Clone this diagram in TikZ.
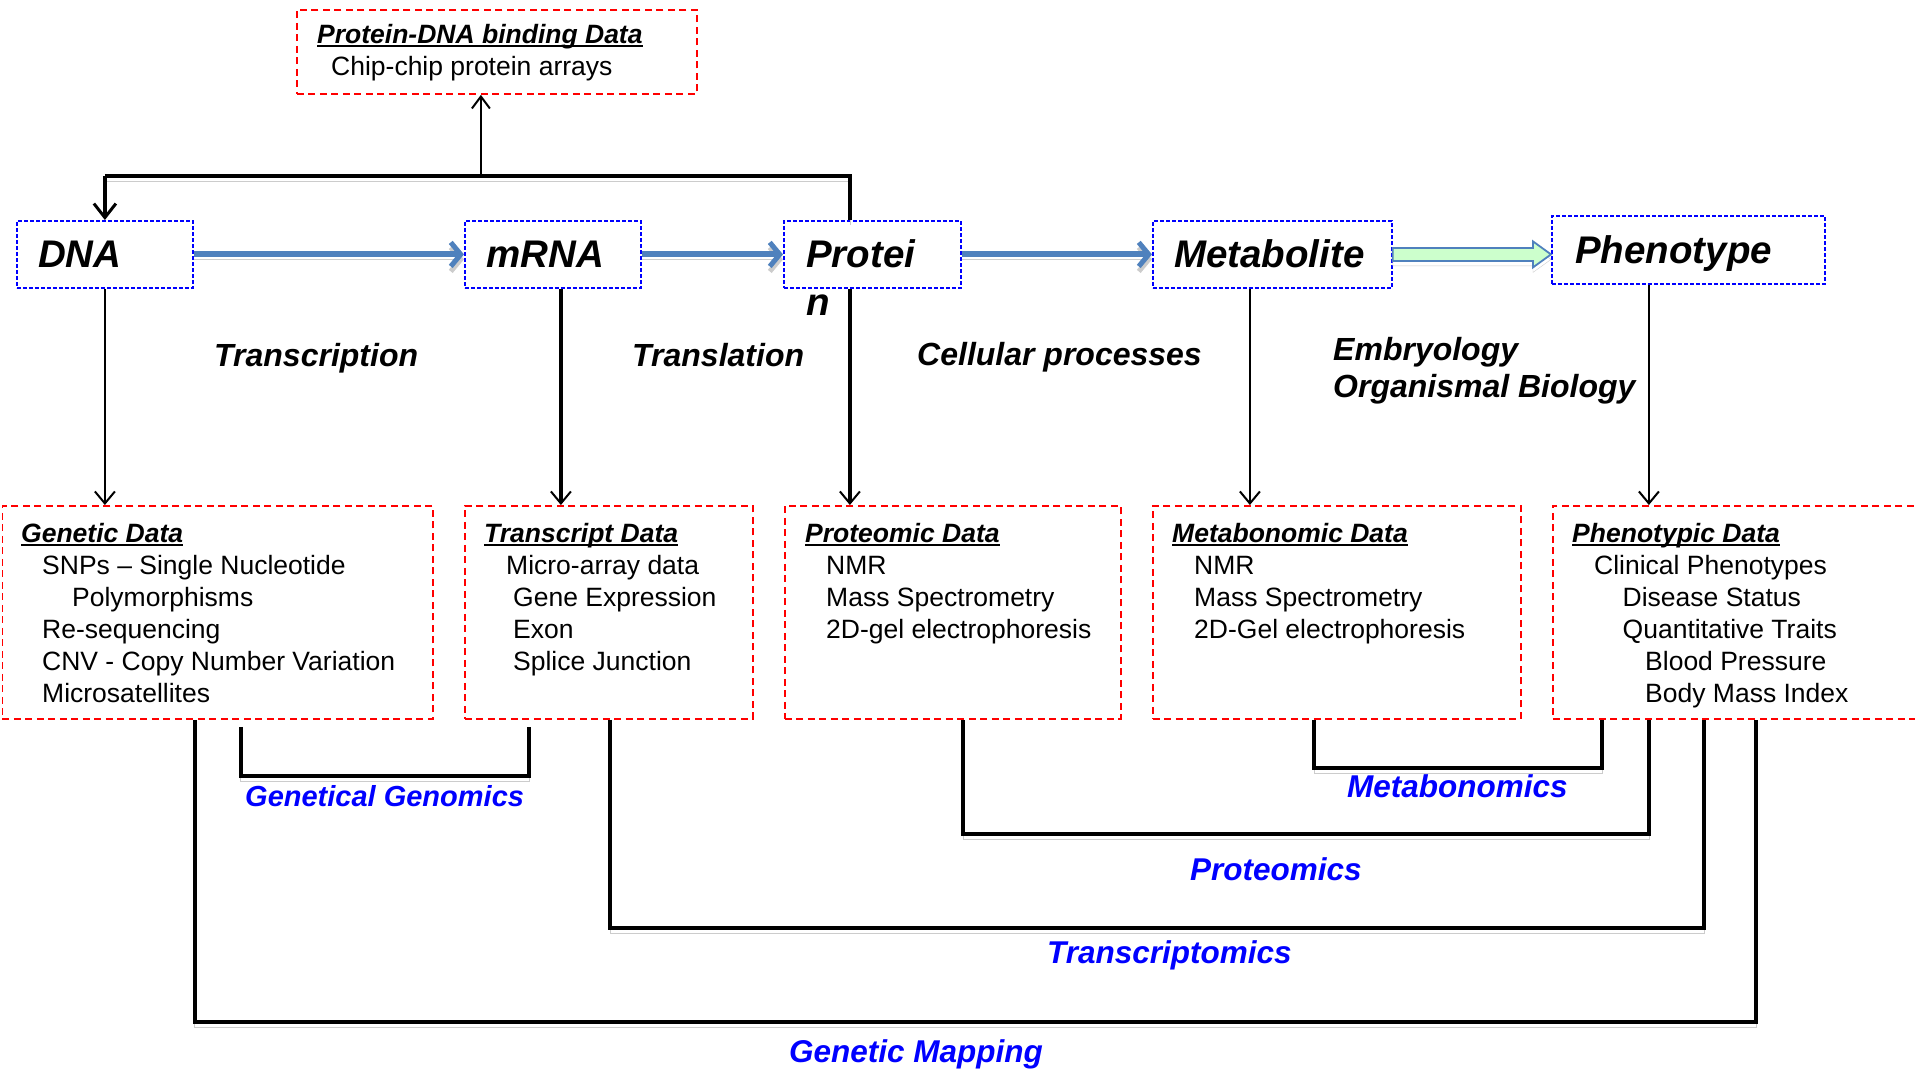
\documentclass[tikz,border=0pt]{standalone}
\usepackage{fontspec}
\setmainfont{Liberation Sans}
\usetikzlibrary{arrows.meta,calc}
\definecolor{arrowblue}{HTML}{4F81BD}
\definecolor{boxblue}{HTML}{0000FF}
\definecolor{boxred}{HTML}{FF0000}
\definecolor{lblblue}{HTML}{0000FF}
\definecolor{palegreen}{HTML}{CCFFCC}
\definecolor{shadowgray}{HTML}{CCCCCC}
\newcommand\myul[1]{\sbox0{#1}\rlap{\rule[-3.5pt]{\wd0}{2pt}}\usebox0}
\newcommand\bigfnt{\fontsize{38.5}{48}\selectfont\bfseries\itshape}
\newcommand\midfnt{\fontsize{32}{37}\selectfont\bfseries\itshape}
\newcommand\boxfnt{\fontsize{26.5}{32}\selectfont}
\newcommand\lblfnt{\fontsize{31.5}{36}\selectfont\bfseries\itshape}
\newcommand\ttl[1]{\myul{\textbf{\textit{#1}}}}
\begin{document}
\begin{tikzpicture}[x=1pt,y=-1pt,
  topbox/.style={draw=boxblue, line width=1.8pt, dash pattern=on 4pt off 2pt, inner sep=0pt, anchor=north west},
  databox/.style={draw=boxred, line width=1.8pt, dash pattern=on 7pt off 4.5pt, inner sep=0pt, anchor=north west},
  txt/.style={anchor=base west, inner sep=0pt},
  shadowed/.style={preaction={draw=shadowgray, transform canvas={yshift=-5pt}}},
  bluearrow/.style={draw=arrowblue, line width=6pt, -{Straight Barb[length=10pt,width=24pt,line width=5pt]}, shadowed},
  varrow/.style={draw=black, line width=2.5pt, -{Straight Barb[length=12pt,width=20pt,line width=2pt]}},
  bracket/.style={draw=black, line width=4pt, shadowed},
  lbl/.style={anchor=base west, inner sep=0pt, font=\lblfnt, text=lblblue}]
\useasboundingbox (0,0) rectangle (1915,1071);
\clip (0,0) rectangle (1915,1071);

% top boxes
\node[databox, minimum width=400pt, minimum height=84pt] (pdna) at (296,9) {};
\node[topbox, minimum width=176pt, minimum height=67pt] (dna) at (16,220) {};
\node[topbox, minimum width=176pt, minimum height=67pt] (mrna) at (464,220) {};
\node[topbox, minimum width=177pt, minimum height=67pt] (prot) at (783,220) {};
\node[topbox, minimum width=239pt, minimum height=67pt] (met) at (1152,220) {};
\node[topbox, minimum width=273pt, minimum height=68pt] (phen) at (1551,215) {};

\node[txt, font=\boxfnt] (pdnat) at (317,43) {\begin{tabular}[t]{@{}l@{}}\ttl{Protein-DNA binding Data}\\\hspace{14pt}Chip-chip protein arrays\end{tabular}};
\node[txt, font=\bigfnt] (dnat) at (38,267) {DNA};
\node[txt, font=\bigfnt] (mrnat) at (486,267) {mRNA};
\node[txt, font=\bigfnt] (prott) at (806,267) {\begin{tabular}[t]{@{}l@{}}Protei\\n\end{tabular}};
\node[txt, font=\bigfnt] (mett) at (1174,267) {Metabolite};
\node[txt, font=\bigfnt] (phent) at (1575,263) {Phenotype};

% middle labels
\node[txt, font=\midfnt] (trc) at (214,366) {Transcription};
\node[txt, font=\midfnt] (trl) at (632,366) {Translation};
\node[txt, font=\midfnt] (cel) at (917,365) {Cellular processes};
\node[txt, font=\midfnt] (emb) at (1333,360) {\begin{tabular}[t]{@{}l@{}}Embryology\\Organismal Biology\end{tabular}};

% bottom data boxes
\node[databox, minimum width=430.5pt, minimum height=213pt] (gen) at (1.5,505) {};
\node[databox, minimum width=288pt, minimum height=213pt] (tra) at (464,505) {};
\node[databox, minimum width=336pt, minimum height=213pt] (pro) at (784,505) {};
\node[databox, minimum width=368pt, minimum height=213pt] (mtb) at (1152,505) {};
\node[databox, minimum width=373pt, minimum height=213pt] (phd) at (1552,505) {};

\node[txt, font=\boxfnt] (gent) at (21,542) {\begin{tabular}[t]{@{}l@{}}\ttl{Genetic Data}\\
\hspace{21pt}SNPs – Single Nucleotide\\
\hspace{51pt}Polymorphisms\\
\hspace{21pt}Re-sequencing\\
\hspace{21pt}CNV - Copy Number Variation\\
\hspace{21pt}Microsatellites\end{tabular}};
\node[txt, font=\boxfnt] (trat) at (484,542) {\begin{tabular}[t]{@{}l@{}}\ttl{Transcript Data}\\
\hspace{22pt}Micro-array data\\
\hspace{29pt}Gene Expression\\
\hspace{29pt}Exon\\
\hspace{29pt}Splice Junction\end{tabular}};
\node[txt, font=\boxfnt] (prot2) at (805,542) {\begin{tabular}[t]{@{}l@{}}\ttl{Proteomic Data}\\
\hspace{21pt}NMR\\
\hspace{21pt}Mass Spectrometry\\
\hspace{21pt}2D-gel electrophoresis\end{tabular}};
\node[txt, font=\boxfnt] (mtbt) at (1172,542) {\begin{tabular}[t]{@{}l@{}}\ttl{Metabonomic Data}\\
\hspace{22pt}NMR\\
\hspace{22pt}Mass Spectrometry\\
\hspace{22pt}2D-Gel electrophoresis\end{tabular}};
\node[txt, font=\boxfnt] (phdt) at (1572,542) {\begin{tabular}[t]{@{}l@{}}\ttl{Phenotypic Data}\\
\hspace{22pt}Clinical Phenotypes\\
\hspace{50.5pt}Disease Status\\
\hspace{50.5pt}Quantitative Traits\\
\hspace{73pt}Blood Pressure\\
\hspace{73pt}Body Mass Index\end{tabular}};

% blue flow arrows
\draw[bluearrow] (dna.east) -- (mrna.west);
\draw[bluearrow] (mrna.east) -- (prot.west);
\draw[bluearrow] (prot.east) -- (met.west);

% green block arrow
\coordinate (gs) at (met.east);
\coordinate (ge) at (phen.west |- met.east);
\filldraw[fill=palegreen, draw=arrowblue, line width=1.8pt, shadowed]
  ($(gs)+(0,-6.5)$) -- ($(ge)+(-18,-6.5)$) -- ($(ge)+(-18,-13)$) -- (ge)
  -- ($(ge)+(-18,13)$) -- ($(ge)+(-18,6.5)$) -- ($(gs)+(0,6.5)$) -- cycle;

% top connector
\coordinate (topr) at ($(prot.north)+(-22.5,-44)$);
\coordinate (topl) at ($(dna.north)+(0,-44)$);
\coordinate (topm) at (topr -| pdna.south);
\draw[line width=4pt, shadowed] ($(prot.north)+(-22.5,0)$) -- (topr) -- (topl);
\draw[line width=3.5pt, -{Straight Barb[length=14pt,width=22pt,line width=3pt]}] (topl) -- (dna.north);
\draw[line width=2.5pt, -{Straight Barb[length=12pt,width=18pt,line width=2pt]}] ($(topm)+(-16,0)$) -- ($(pdna.south)+(-16,0)$);

% vertical arrows
\draw[varrow] (dna.south) -- (dna.south |- gen.north);
\draw[varrow, line width=3.5pt] ($(mrna.south)+(8,0)$) -- ($(mrna.south |- tra.north)+(8,0)$);
\draw[varrow, line width=3.5pt] ($(prot.south)+(-22.5,0)$) -- ($(prot.south |- pro.north)+(-22.5,0)$);
\draw[varrow] ($(met.south)+(-22.5,0)$) -- ($(met.south |- mtb.north)+(-22.5,0)$);
\draw[varrow] ($(phen.south)+(-39.5,0)$) -- ($(phen.south |- phd.north)+(-39.5,0)$);

% brackets
\draw[bracket] ($(gen.south)+(23,7)$) -- ++(0,49) -| ($(tra.south)+(-80,7)$);
\draw[bracket] ($(gen.south)+(-23,0)$) -- ++(0,302) -| ($(phd.south)+(16.5,0)$);
\draw[bracket] ($(tra.south)+(1,0)$) -- ++(0,208) -| ($(phd.south)+(-35.5,0)$);
\draw[bracket] ($(pro.south)+(10,0)$) -- ++(0,114) -| ($(phd.south)+(-90.5,0)$);
\draw[bracket] ($(mtb.south)+(-23,0)$) -- ++(0,48) -| ($(phd.south)+(-137.5,0)$);

% bracket labels
\node[lbl, font=\fontsize{29}{34}\selectfont\bfseries\itshape] (gg) at (245,806) {Genetical Genomics};
\node[lbl] (mb) at (1347,797) {Metabonomics};
\node[lbl] (pr) at (1190,880) {Proteomics};
\node[lbl] (tr) at (1047,963) {Transcriptomics};
\node[lbl] (gm) at (789,1062) {Genetic Mapping};
\end{tikzpicture}
\end{document}
